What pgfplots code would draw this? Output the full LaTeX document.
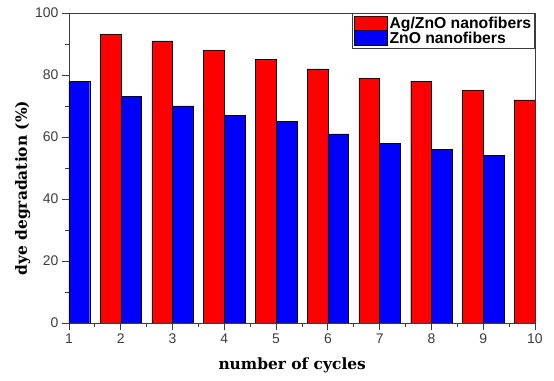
\documentclass[border=0pt]{standalone}
\usepackage{pgfplots}
\pgfplotsset{compat=1.18}
\usepackage{fontspec}
\setmainfont{Liberation Sans}
\newfontfamily\serifbold{DejaVu Serif}
\definecolor{axgray}{RGB}{60,60,60}
\begin{document}
\begin{tikzpicture}
\path[use as bounding box] (-69bp,-58bp) rectangle (485bp,323bp);
\begin{axis}[
  at={(0,0)}, anchor=south west,
  width=466bp, height=310bp, scale only axis,
  xmin=1, xmax=10, ymin=0, ymax=100,
  xtick={1,...,10}, ytick={0,20,...,100},
  minor xtick={1.5,2.5,...,9.5}, minor ytick={10,30,...,90},
  tick align=outside, tick pos=left,
  major tick length=7bp, minor tick length=4bp,
  axis line style={axgray, line width=0.9pt},
  every tick/.style={axgray, line width=0.8pt},
  tick label style={font=\fontsize{14}{16}\selectfont, text=axgray},
  /pgf/number format/assume math mode=true,
  xlabel={\serifbold\bfseries\fontsize{15.5}{18}\selectfont number of cycles},
  ylabel={\serifbold\bfseries\fontsize{15.5}{18}\selectfont dye degradation (\%)},
  xlabel style={at={(ticklabel cs:0.479)}, yshift=-8bp},
  ylabel style={at={(ticklabel cs:0.435)}, yshift=-2bp},
  legend style={at={(1,1)}, anchor=north east, draw=axgray, line width=0.6pt,
    font=\bfseries\fontsize{15.8}{17}\selectfont, inner sep=1.5bp, row sep=-2bp,
    cells={anchor=west}},
  legend image code/.code={\draw[#1] (0bp,-7bp) rectangle (33bp,7.5bp);},
  clip=true,
]
\addplot[ybar, bar width=0.4, bar shift=-0.2, fill=red, draw=black, line width=0.4pt]
  coordinates {(2,93) (3,91) (4,88) (5,85) (6,82) (7,79) (8,78) (9,75) (10,72)};
\addplot[ybar, bar width=0.4, bar shift=0.2, fill=blue, draw=black, line width=0.4pt]
  coordinates {(1,78) (2,73) (3,70) (4,67) (5,65) (6,61) (7,58) (8,56) (9,54)};
\legend{Ag/ZnO nanofibers, ZnO nanofibers}
\end{axis}
\end{tikzpicture}
\end{document}
